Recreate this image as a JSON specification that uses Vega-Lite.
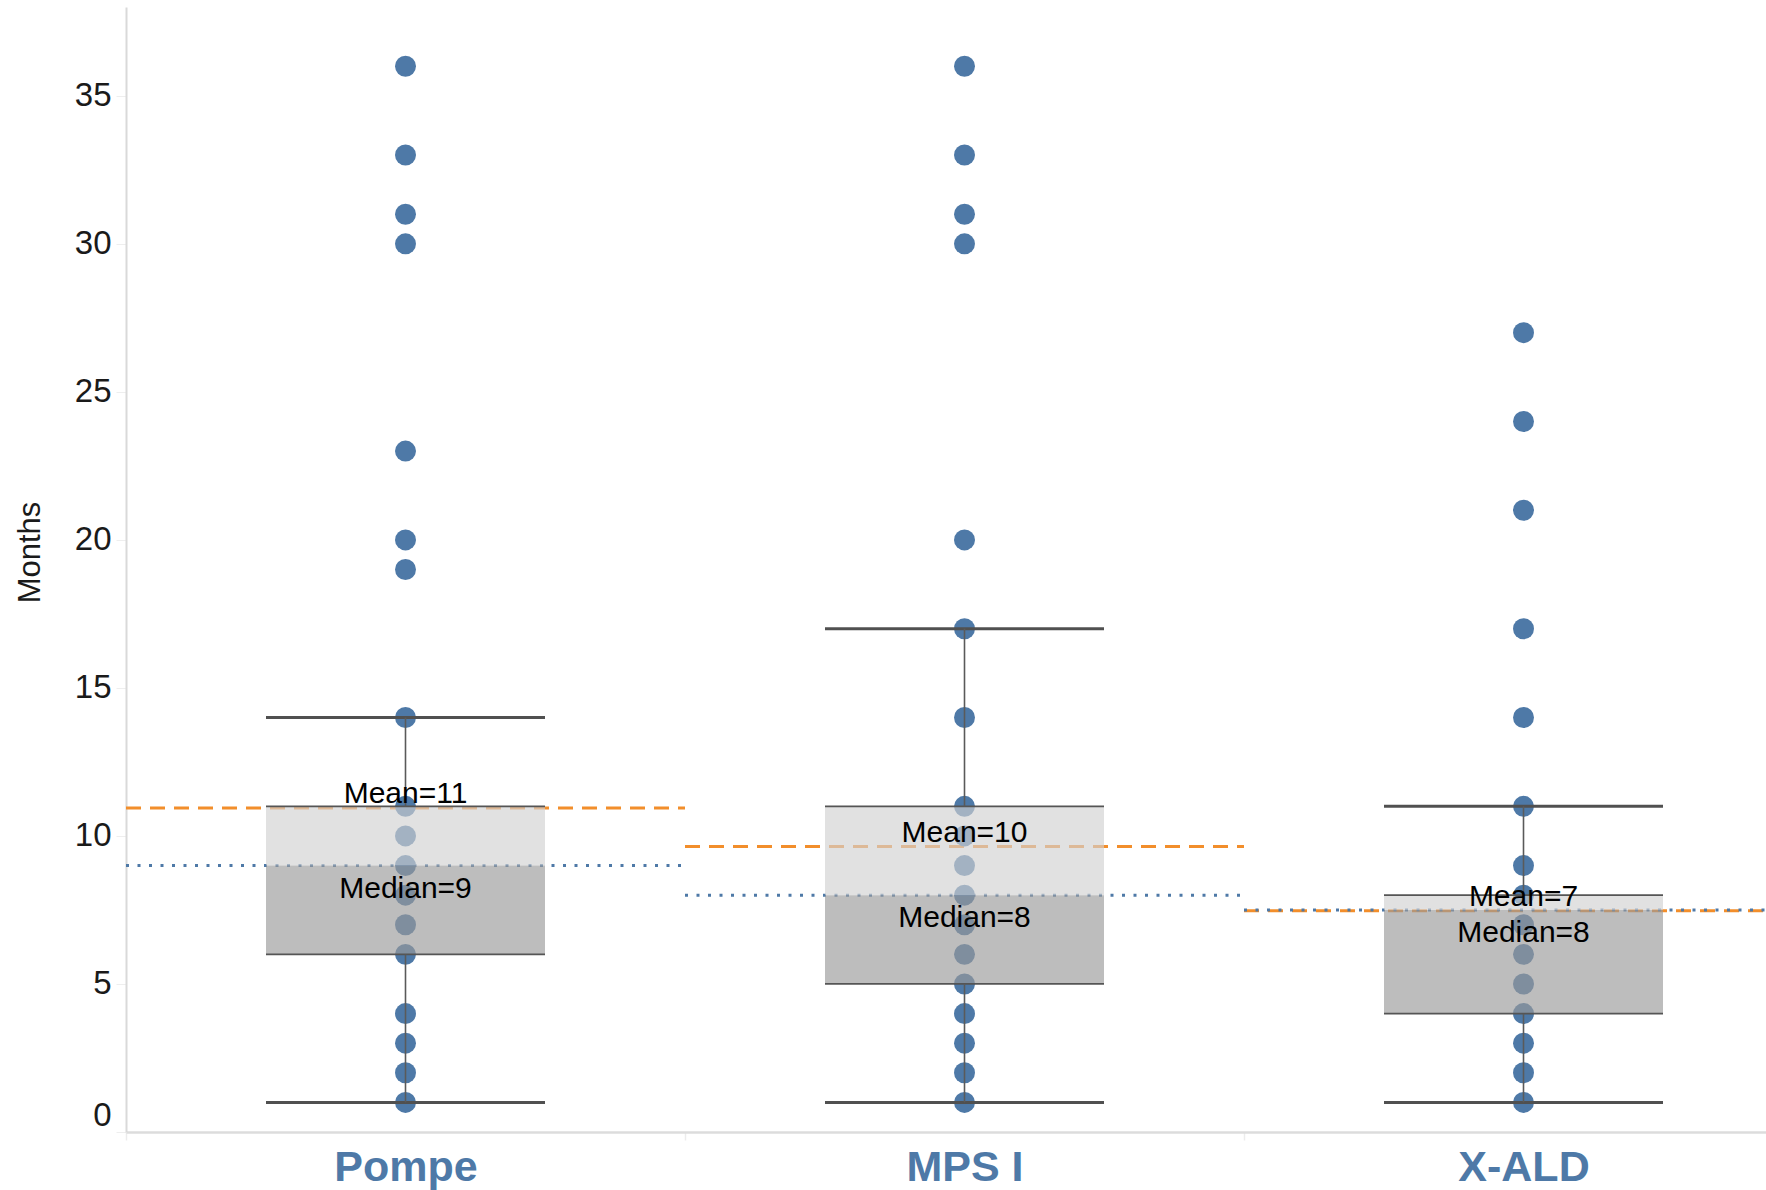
{
  "$schema": "https://vega.github.io/schema/vega-lite/v6.json",
  "autosize": {"type": "none"},
  "padding": {"left": 126, "top": 7, "right": 0, "bottom": 58},
  "width": 1640,
  "height": 1125,
  "background": "white",
  "config": {
    "font": "Liberation Sans",
    "view": {"stroke": null}
  },
  "datasets": {
    "dots": [
      {"group": "Pompe", "months": 1}, {"group": "Pompe", "months": 2}, {"group": "Pompe", "months": 3},
      {"group": "Pompe", "months": 4}, {"group": "Pompe", "months": 6}, {"group": "Pompe", "months": 7},
      {"group": "Pompe", "months": 8}, {"group": "Pompe", "months": 9}, {"group": "Pompe", "months": 10},
      {"group": "Pompe", "months": 11}, {"group": "Pompe", "months": 14}, {"group": "Pompe", "months": 19},
      {"group": "Pompe", "months": 20}, {"group": "Pompe", "months": 23}, {"group": "Pompe", "months": 30},
      {"group": "Pompe", "months": 31}, {"group": "Pompe", "months": 33}, {"group": "Pompe", "months": 36},
      {"group": "MPS I", "months": 1}, {"group": "MPS I", "months": 2}, {"group": "MPS I", "months": 3},
      {"group": "MPS I", "months": 4}, {"group": "MPS I", "months": 5}, {"group": "MPS I", "months": 6},
      {"group": "MPS I", "months": 7}, {"group": "MPS I", "months": 8}, {"group": "MPS I", "months": 9},
      {"group": "MPS I", "months": 10}, {"group": "MPS I", "months": 11}, {"group": "MPS I", "months": 14},
      {"group": "MPS I", "months": 17}, {"group": "MPS I", "months": 20}, {"group": "MPS I", "months": 30},
      {"group": "MPS I", "months": 31}, {"group": "MPS I", "months": 33}, {"group": "MPS I", "months": 36},
      {"group": "X-ALD", "months": 1}, {"group": "X-ALD", "months": 2}, {"group": "X-ALD", "months": 3},
      {"group": "X-ALD", "months": 4}, {"group": "X-ALD", "months": 5}, {"group": "X-ALD", "months": 6},
      {"group": "X-ALD", "months": 7}, {"group": "X-ALD", "months": 8}, {"group": "X-ALD", "months": 9},
      {"group": "X-ALD", "months": 11}, {"group": "X-ALD", "months": 14}, {"group": "X-ALD", "months": 17},
      {"group": "X-ALD", "months": 21}, {"group": "X-ALD", "months": 24}, {"group": "X-ALD", "months": 27}
    ],
    "stats": [
      {"group": "Pompe", "lo": 1, "q1": 6, "median": 9, "q3": 11, "hi": 14, "mean": 10.94, "meanLabel": "Mean=11", "medianLabel": "Median=9"},
      {"group": "MPS I", "lo": 1, "q1": 5, "median": 8, "q3": 11, "hi": 17, "mean": 9.64, "meanLabel": "Mean=10", "medianLabel": "Median=8"},
      {"group": "X-ALD", "lo": 1, "q1": 4, "median": 7.5, "q3": 8, "hi": 11, "mean": 7.47, "meanLabel": "Mean=7", "medianLabel": "Median=8"}
    ]
  },
  "encoding": {
    "x": {
      "field": "group",
      "type": "nominal",
      "sort": ["Pompe", "MPS I", "X-ALD"],
      "scale": {"domain": ["Pompe", "MPS I", "X-ALD"], "range": [0, 1677], "paddingInner": 0, "paddingOuter": 0},
      "axis": {
        "title": null,
        "labelAngle": 0,
        "labelFontSize": 43,
        "labelFontWeight": "bold",
        "labelColor": "#4e79a7",
        "labelPadding": 6,
        "tickBand": "extent",
        "tickSize": 8,
        "tickColor": "#ececec",
        "tickWidth": 1.5,
        "domainColor": "#dcdcdc",
        "domainWidth": 2.5,
        "grid": false
      }
    }
  },
  "layer": [
    {
      "data": {"name": "stats"},
      "mark": {"type": "rule", "color": "#f28e2b", "strokeWidth": 3, "strokeDash": [15, 9], "xOffset": -279.5, "x2Offset": 279.5},
      "encoding": {
        "x2": {"field": "group"},
        "y": {"field": "mean", "type": "quantitative"}
      }
    },
    {
      "data": {"name": "stats"},
      "mark": {"type": "rule", "color": "#4e79a7", "strokeWidth": 3, "strokeDash": [3, 8.5], "xOffset": -279.5, "x2Offset": 279.5},
      "encoding": {
        "x2": {"field": "group"},
        "y": {"field": "median", "type": "quantitative"}
      }
    },
    {
      "data": {"name": "dots"},
      "mark": {"type": "circle", "color": "#4e79a7", "opacity": 1, "size": 440},
      "encoding": {
        "y": {
          "field": "months",
          "type": "quantitative",
          "scale": {"domain": [0, 38], "nice": false, "zero": true},
          "axis": {
            "title": "Months",
            "values": [0, 5, 10, 15, 20, 25, 30, 35],
            "grid": false,
            "labelFontSize": 33,
            "labelColor": "#1a1a1a",
            "labelPadding": 5,
            "labelBaseline": {"condition": {"test": "datum.value === 0", "value": "bottom"}, "value": "middle"},
            "tickSize": 10,
            "tickColor": "#eeeeee",
            "domainColor": "#d9d9d9",
            "domainWidth": 2,
            "titleFontSize": 31,
            "titleFontWeight": "normal",
            "titleColor": "#1a1a1a",
            "titleAngle": -90,
            "titleAlign": "center",
            "titleBaseline": "alphabetic",
            "titleX": -87,
            "titleY": 545
          }
        }
      }
    },
    {
      "data": {"name": "stats"},
      "mark": {"type": "bar", "color": "#d1d1d1", "opacity": 0.65, "size": 279},
      "encoding": {
        "y": {"field": "median", "type": "quantitative"},
        "y2": {"field": "q3"}
      }
    },
    {
      "data": {"name": "stats"},
      "mark": {"type": "bar", "color": "#9a9a9a", "opacity": 0.65, "size": 279},
      "encoding": {
        "y": {"field": "q1", "type": "quantitative"},
        "y2": {"field": "median"}
      }
    },
    {
      "data": {"name": "stats"},
      "mark": {"type": "rule", "color": "#555555", "strokeWidth": 1.8, "xOffset": -139.5, "x2Offset": 139.5},
      "encoding": {
        "x2": {"field": "group"},
        "y": {"field": "q3", "type": "quantitative"}
      }
    },
    {
      "data": {"name": "stats"},
      "mark": {"type": "rule", "color": "#555555", "strokeWidth": 1.8, "xOffset": -139.5, "x2Offset": 139.5},
      "encoding": {
        "x2": {"field": "group"},
        "y": {"field": "q1", "type": "quantitative"}
      }
    },
    {
      "data": {"name": "stats"},
      "mark": {"type": "rule", "color": "#505050", "strokeWidth": 3, "xOffset": -139.5, "x2Offset": 139.5},
      "encoding": {
        "x2": {"field": "group"},
        "y": {"field": "lo", "type": "quantitative"}
      }
    },
    {
      "data": {"name": "stats"},
      "mark": {"type": "rule", "color": "#505050", "strokeWidth": 3, "xOffset": -139.5, "x2Offset": 139.5},
      "encoding": {
        "x2": {"field": "group"},
        "y": {"field": "hi", "type": "quantitative"}
      }
    },
    {
      "data": {"name": "stats"},
      "mark": {"type": "rule", "color": "#5a5a5a", "strokeWidth": 1.6},
      "encoding": {
        "y": {"field": "lo", "type": "quantitative"},
        "y2": {"field": "q1"}
      }
    },
    {
      "data": {"name": "stats"},
      "mark": {"type": "rule", "color": "#5a5a5a", "strokeWidth": 1.6},
      "encoding": {
        "y": {"field": "q3", "type": "quantitative"},
        "y2": {"field": "hi"}
      }
    },
    {
      "data": {"name": "stats"},
      "mark": {"type": "text", "fontSize": 30, "color": "#000000", "align": "center", "baseline": "alphabetic", "dy": -5},
      "encoding": {
        "y": {"field": "mean", "type": "quantitative"},
        "text": {"field": "meanLabel"}
      }
    },
    {
      "data": {"name": "stats"},
      "mark": {"type": "text", "fontSize": 30, "color": "#000000", "align": "center", "baseline": "alphabetic", "dy": 32},
      "encoding": {
        "y": {"field": "median", "type": "quantitative"},
        "text": {"field": "medianLabel"}
      }
    }
  ]
}
